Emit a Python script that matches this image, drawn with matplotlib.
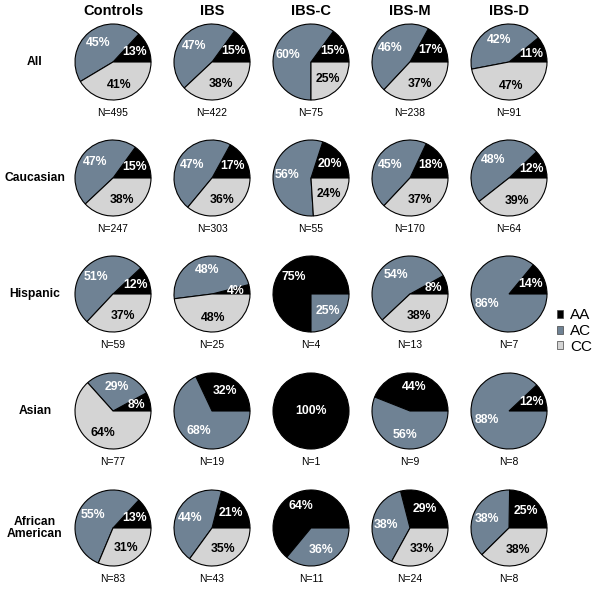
import numpy as np
import matplotlib
matplotlib.use("Agg")
import matplotlib.pyplot as plt
from matplotlib.patches import Patch

plt.rcParams['font.family'] = ['Liberation Sans', 'DejaVu Sans']

groups = ['Controls', 'IBS', 'IBS-C', 'IBS-M', 'IBS-D']
ethnicities = ['All', 'Caucasian', 'Hispanic', 'Asian', 'African\nAmerican']
genotypes = ['AA', 'AC', 'CC']

# genotype percentages [AA, AC, CC] per ethnicity (rows) and group (columns)
pct_all = [[13, 45, 41], [15, 47, 38], [15, 60, 25], [17, 46, 37], [11, 42, 47]]
pct_caucasian = [[15, 47, 38], [17, 47, 36], [20, 56, 24], [18, 45, 37], [12, 48, 39]]
pct_hispanic = [[12, 51, 37], [4, 48, 48], [75, 25, 0], [8, 54, 38], [14, 86, 0]]
pct_asian = [[8, 29, 64], [32, 68, 0], [100, 0, 0], [44, 56, 0], [12, 88, 0]]
pct_african_american = [[13, 55, 31], [21, 44, 35], [64, 36, 0], [29, 38, 33], [25, 38, 38]]

n_all = [495, 422, 75, 238, 91]
n_caucasian = [247, 303, 55, 170, 64]
n_hispanic = [59, 25, 4, 13, 7]
n_asian = [77, 19, 1, 9, 8]
n_african_american = [83, 43, 11, 24, 8]

pcts = [pct_all, pct_caucasian, pct_hispanic, pct_asian, pct_african_american]
ns = [n_all, n_caucasian, n_hispanic, n_asian, n_african_american]

colors = ['#000000', '#6f8294', '#d4d4d4']
text_colors = ['white', 'white', 'black']

W, H = 603, 589
fig = plt.figure(figsize=(W / 100, H / 100), dpi=100)
ax = fig.add_axes([0, 0, 1, 1])

col_x = [113, 212, 311, 410, 509]
row_y = [62, 178, 294, 411, 528]
radius = 38

for i, ctitle in enumerate(groups):
    ax.text(col_x[i], H - 11, ctitle, ha='center', va='center',
            fontsize=10.5, fontweight='bold')

for r, rlabel in enumerate(ethnicities):
    cy = H - row_y[r]
    ax.text(35, cy, rlabel, ha='center', va='center', fontsize=8.7,
            fontweight='bold', linespacing=1.1)
    for c in range(len(groups)):
        cx = col_x[c]
        vals = pcts[r][c]
        keep = [k for k in range(3) if vals[k] > 0]
        sizes = [vals[k] for k in keep]
        ax.pie(sizes, colors=[colors[k] for k in keep],
               startangle=0, counterclock=True,
               center=(cx, cy), radius=radius, frame=True,
               wedgeprops=dict(edgecolor='black', linewidth=0.8))
        total = sum(sizes)
        start = 0
        for k, v in zip(keep, sizes):
            span = 360 * v / total
            mid = np.deg2rad(start + span / 2)
            d = 0 if len(keep) == 1 else 0.63 * radius
            ax.text(cx + d * np.cos(mid), cy + d * np.sin(mid), f'{v}%',
                    ha='center', va='center', fontsize=8.8, fontweight='bold',
                    color=text_colors[k])
            start += span
        ax.text(cx, cy - 51, f'N={ns[r][c]}', ha='center', va='center',
                fontsize=7.5)

ax.set_xlim(0, W)
ax.set_ylim(0, H)
ax.set_aspect('equal')
ax.axis('off')

handles = [Patch(facecolor=colors[k], edgecolor='#444444', linewidth=0.5,
                 label=genotypes[k]) for k in range(3)]
ax.legend(handles=handles, loc='center left', bbox_to_anchor=(557 / W, 1 - 331 / H),
          frameon=False, fontsize=11, handlelength=0.42, handleheight=0.42,
          handletextpad=0.42, labelspacing=0.12, borderpad=0, borderaxespad=0)

fig.savefig('out.png', dpi=100)
